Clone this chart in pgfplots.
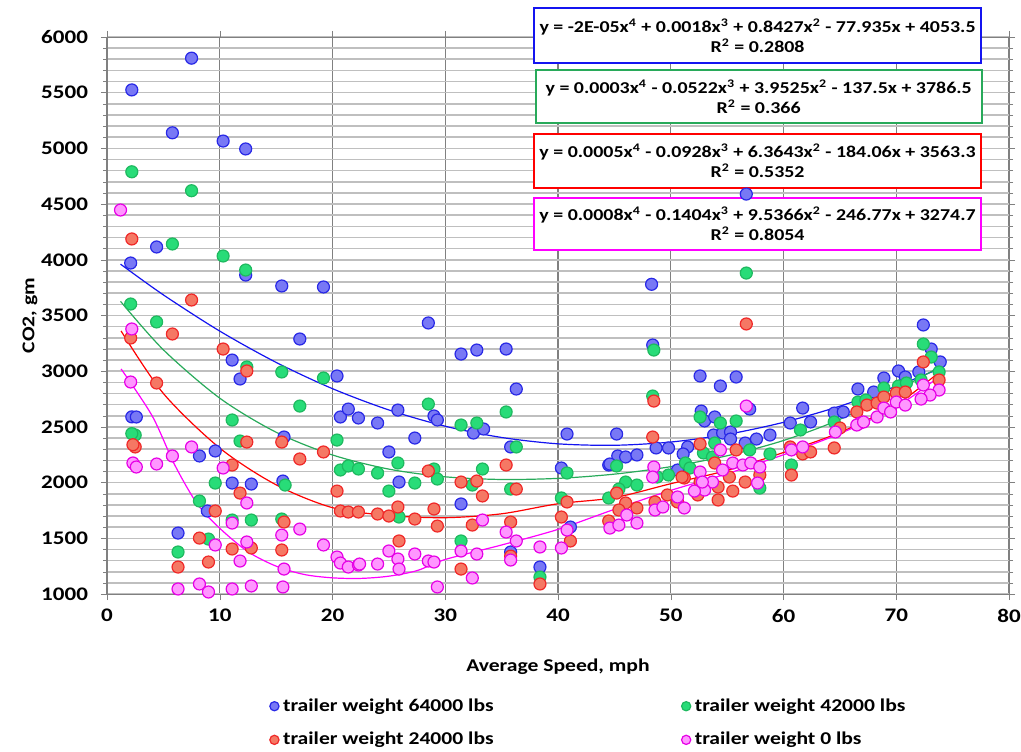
\documentclass[border=0pt]{standalone}
\usepackage{fontspec}
\setmainfont{Carlito}[FakeStretch=1.2]
\usepackage{pgfplots}
\pgfplotsset{compat=1.18}

\definecolor{bfill}{RGB}{120,120,245}
\definecolor{bedge}{RGB}{40,40,230}
\definecolor{gfill}{RGB}{40,220,120}
\definecolor{gedge}{RGB}{30,185,95}
\definecolor{rfill}{RGB}{245,120,100}
\definecolor{redge}{RGB}{240,40,40}
\definecolor{mfill}{RGB}{255,150,255}
\definecolor{medge}{RGB}{230,0,230}
\definecolor{bline}{RGB}{20,20,240}
\definecolor{gline}{RGB}{40,170,90}
\definecolor{rline}{RGB}{255,0,0}
\definecolor{mline}{RGB}{255,0,255}

\newcommand{\lblfont}{\bfseries\fontsize{9}{10}\selectfont}
\newcommand{\tickfont}{\bfseries\fontsize{9.6}{11}\selectfont}
\newcommand{\eqfont}{\bfseries\fontsize{8.3}{10}\selectfont}

\begin{document}
\begin{tikzpicture}
\begin{axis}[
width=451pt,
height=278.5pt,
scale only axis,
clip=false,
xmin=0, xmax=80,
ymin=1000, ymax=6000,
xtick={0,10,...,80},
ytick={1000,1500,...,6000},
minor y tick num=4,
tick align=outside,
major tick length=3pt,
minor tick length=2pt,
tick style={color=gray},
axis line style={color=gray},
xmajorgrids, ymajorgrids, yminorgrids,
major x grid style={color=gray, line width=0.6pt},
major y grid style={color=black!25, line width=0.8pt},
minor y grid style={color=black!25, line width=0.8pt},
/pgf/number format/assume math mode=true,
/pgf/number format/1000 sep={},
ticklabel style={font=\tickfont},
yticklabel style={xshift=-3pt},
xticklabel style={yshift=-1pt},
xlabel={Average Speed, mph},
ylabel={CO2, gm},
every axis x label/.style={at={(rel axis cs:0.5,0)}, yshift=-36.5pt, anchor=center, font=\lblfont},
every axis y label/.style={at={(rel axis cs:0,0.5)}, xshift=-38.5pt, rotate=90, anchor=center, font=\lblfont},
legend columns=2,
legend cell align=left,
legend image post style={mark size=2.3pt},
legend style={at={(rel axis cs:0.535,0)}, anchor=north, yshift=-48pt, draw=none, fill=none,
  font=\lblfont, row sep=5pt, /tikz/every even column/.append style={column sep=92pt}},
]
\coordinate (sw) at (rel axis cs:0,0);
\coordinate (ne) at (rel axis cs:1,1);

% trailer weight 64000 lbs
\addplot[only marks, mark=*, mark size=3pt, mark options={fill=bfill, draw=bedge, line width=0.6pt}] coordinates {
(2.2,5525) (7.5,5810) (5.8,5140) (10.3,5066) (12.3,4995) (4.4,4115) (2.1,3971) (12.3,3863)
(15.5,3765) (19.2,3756) (17.1,3289) (11.1,3100) (11.8,2930) (20.4,2957) (2.2,2590) (2.6,2589)
(20.7,2589) (21.4,2660) (22.3,2580) (15.7,2409) (9.6,2284) (8.2,2239) (11.1,1996) (12.8,1987)
(15.6,2014) (8.9,1745) (6.3,1547) (28.5,3433) (31.4,3154) (32.8,3190) (35.4,3199) (36.3,2840)
(24.0,2535) (25.8,2651) (29.0,2598) (29.3,2562) (32.5,2445) (33.4,2481) (27.3,2400) (40.8,2436)
(35.8,2320) (25.0,2275) (40.3,2131) (25.9,2005) (31.4,1808) (41.1,1601) (35.8,1377) (38.4,1242)
(48.4,3235) (48.3,3780) (45.2,2436) (44.5,2158) (45.3,2239) (46.0,2230) (47.0,2248) (44.6,2167)
(48.7,2311) (49.8,2311) (56.7,4590) (52.6,2957) (54.4,2867) (55.8,2948) (57.0,2660) (52.7,2642)
(53.0,2553) (53.9,2589) (53.8,2427) (54.6,2445) (55.3,2454) (55.3,2391) (56.6,2355) (57.6,2391)
(58.8,2427) (51.5,2320) (51.1,2257) (50.6,2113) (60.6,2535) (61.7,2669) (62.4,2544) (64.5,2624)
(65.3,2634) (66.6,2840) (68.0,2813) (68.9,2939) (70.2,3002) (70.8,2948) (72.0,2993) (72.4,3415)
(73.1,3199) (73.9,3083)
};
\addlegendentry{trailer weight 64000 lbs}

% trailer weight 42000 lbs
\addplot[only marks, mark=*, mark size=3pt, mark options={fill=gfill, draw=gedge, line width=0.6pt}] coordinates {
(2.2,4790) (7.5,4620) (5.8,4142) (10.3,4034) (12.3,3908) (2.1,3603) (4.4,3442) (12.4,3038)
(15.5,2993) (19.2,2939) (17.1,2687) (11.1,2562) (2.5,2427) (2.2,2440) (11.8,2373) (20.4,2382)
(20.7,2113) (21.4,2149) (22.3,2122) (9.6,1996) (15.8,1978) (8.2,1835) (11.1,1664) (12.8,1664)
(15.5,1673) (9.0,1493) (6.3,1377) (28.5,2705) (35.4,2634) (31.4,2517) (32.8,2535) (36.3,2320)
(25.8,2176) (24.0,2086) (29.0,2122) (29.3,2032) (33.3,2122) (40.8,2086) (27.3,1996) (32.4,1978)
(35.8,1942) (25.0,1924) (40.3,1862) (25.9,1691) (31.4,1476) (38.4,1152) (48.5,3190) (48.4,2777)
(45.2,2149) (46.0,2005) (47.0,1978) (45.4,1942) (44.5,1862) (48.8,2050) (49.8,2068) (56.7,3881)
(52.6,2589) (54.4,2535) (55.8,2553) (53.9,2355) (52.9,2266) (57.0,2293) (58.8,2257) (51.3,2176)
(51.7,2131) (53.7,2230) (57.9,1951) (61.5,2472) (60.7,2158) (64.5,2544) (66.6,2723) (67.3,2741)
(68.9,2849) (70.2,2867) (70.9,2894) (72.2,2921) (73.8,2993) (72.4,3244) (73.1,3127)
};
\addlegendentry{trailer weight 42000 lbs}

% trailer weight 24000 lbs
\addplot[only marks, mark=*, mark size=3pt, mark options={fill=rfill, draw=redge, line width=0.6pt}] coordinates {
(2.2,4187) (7.5,3639) (2.1,3298) (5.8,3334) (10.3,3199) (12.4,3002) (4.4,2894) (2.5,2320)
(2.3,2340) (12.4,2364) (15.5,2364) (19.2,2275) (17.1,2212) (11.1,2158) (20.4,1924) (11.8,1906)
(9.6,1745) (20.7,1745) (21.4,1736) (22.3,1736) (15.7,1646) (8.2,1502) (11.1,1404) (12.8,1413)
(15.5,1395) (9.0,1287) (6.3,1242) (35.4,2158) (28.5,2104) (31.4,2005) (32.8,2014) (36.3,1942)
(33.3,1880) (40.8,1826) (25.8,1781) (24.0,1718) (25.0,1700) (27.3,1673) (29.0,1763) (29.3,1610)
(40.3,1691) (35.8,1646) (32.4,1619) (41.1,1476) (25.9,1476) (31.4,1224) (35.8,1340) (38.4,1090)
(48.5,2732) (48.4,2409) (45.2,1906) (46.0,1817) (45.4,1754) (47.0,1772) (44.5,1655) (49.7,1889)
(48.6,1826) (56.7,3424) (52.6,2346) (55.8,2293) (53.9,2176) (51.2,2041) (52.6,2005) (55.2,2050)
(56.6,2005) (57.9,2068) (54.2,1960) (54.2,1844) (55.5,1924) (50.6,1826) (51.0,2050) (52.4,1889)
(61.7,2257) (62.4,2275) (60.7,2068) (60.6,2320) (64.5,2311) (65.0,2490) (66.5,2634) (67.4,2696)
(68.3,2714) (68.9,2768) (70.0,2804) (70.8,2813) (72.4,3083) (73.8,2921)
};
\addlegendentry{trailer weight 24000 lbs}

% trailer weight 0 lbs
\addplot[only marks, mark=*, mark size=3pt, mark options={fill=mfill, draw=medge, line width=0.6pt}] coordinates {
(1.2,4447) (2.2,3379) (2.1,2903) (7.5,2320) (5.8,2239) (2.3,2176) (2.6,2140) (4.4,2167)
(10.3,2131) (12.4,1817) (11.1,1637) (17.1,1583) (9.6,1440) (12.4,1467) (15.5,1529) (19.2,1440)
(11.8,1296) (20.4,1332) (20.7,1278) (21.4,1242) (22.3,1260) (15.7,1224) (6.3,1045) (8.2,1090)
(9.0,1018) (11.1,1045) (12.8,1072) (15.6,1063) (33.3,1664) (35.4,1556) (40.8,1574) (36.3,1476)
(25.0,1386) (22.4,1269) (24.0,1269) (25.8,1314) (25.9,1224) (27.3,1359) (28.5,1296) (29.0,1287)
(29.3,1063) (31.4,1386) (32.8,1359) (32.4,1144) (35.8,1305) (38.4,1422) (40.3,1413) (48.5,2140)
(48.4,2050) (44.6,1592) (45.4,1619) (46.1,1709) (47.0,1637) (48.6,1754) (49.3,1781) (56.7,2687)
(54.4,2293) (55.5,2176) (56.4,2158) (57.1,2176) (57.9,2140) (52.6,2095) (54.6,2113) (53.7,2005)
(53.0,1933) (52.1,1924) (50.6,1871) (57.7,1996) (51.2,1772) (52.8,2005) (60.7,2293) (61.7,2320)
(64.6,2454) (66.8,2535) (66.5,2517) (67.1,2544) (68.3,2589) (68.9,2669) (69.5,2634) (70.0,2723)
(70.8,2696) (72.4,2876) (73.8,2831) (73.0,2786) (72.2,2750)
};
\addlegendentry{trailer weight 0 lbs}

% trend lines
\addplot[forget plot, smooth, bline, line width=0.6pt] coordinates {
(1.2,3961) (5,3685) (10,3360) (15,3079) (20,2843) (25,2652) (30,2506) (35,2405)
(40,2348) (45,2335) (50,2364) (55,2433) (60,2541) (65,2686) (70,2865) (73.9,3026)
};
\addplot[forget plot, smooth, gline, line width=0.6pt] coordinates {
(1.2,3627) (5,3192) (10,2758) (15,2452) (20,2248) (25,2121) (30,2052) (35,2028)
(40,2038) (45,2076) (50,2143) (55,2241) (60,2378) (65,2568) (70,2827) (73.9,3040)
};
\addplot[forget plot, smooth, rline, line width=0.6pt] coordinates {
(1.25,3361) (5,2800) (10,2310) (15,1980) (20,1775) (25,1705) (30,1685) (35,1720)
(40,1810) (45,1865) (50,1990) (55,2110) (60,2270) (65,2450) (70,2700) (73.8,2990)
};
\addplot[forget plot, smooth, mline, line width=0.6pt] coordinates {
(1.25,3020) (4,2600) (6,2160) (8,1810) (10,1590) (12.5,1380) (15,1250) (17.5,1175)
(20,1145) (22.5,1140) (25,1160) (27.5,1210) (30,1310) (35,1440) (40,1580) (45,1760)
(50,1930) (55,2080) (60,2250) (65,2440) (70,2680) (73.8,2950)
};

% equation boxes
\node[draw=bline, line width=1pt, fill=white, align=center, minimum width=223.5pt, minimum height=27.5pt, inner sep=1pt, font=\eqfont]
  at (axis cs:57.7,6013) {y = -2E-05x\textsuperscript{4} + 0.0018x\textsuperscript{3} + 0.8427x\textsuperscript{2} - 77.935x + 4053.5\\R\textsuperscript{2} = 0.2808};
\node[draw=gline, line width=1pt, fill=white, align=center, minimum width=223pt, minimum height=26.5pt, inner sep=1pt, font=\eqfont]
  at (axis cs:57.8,5466) {y = 0.0003x\textsuperscript{4} - 0.0522x\textsuperscript{3} + 3.9525x\textsuperscript{2} - 137.5x + 3786.5\\R\textsuperscript{2} = 0.366};
\node[draw=rline, line width=1pt, fill=white, align=center, minimum width=223.5pt, minimum height=27pt, inner sep=1pt, font=\eqfont]
  at (axis cs:57.7,4887) {y = 0.0005x\textsuperscript{4} - 0.0928x\textsuperscript{3} + 6.3643x\textsuperscript{2} - 184.06x + 3563.3\\R\textsuperscript{2} = 0.5352};
\node[draw=mline, line width=1pt, fill=white, align=center, minimum width=223.5pt, minimum height=26pt, inner sep=1pt, font=\eqfont]
  at (axis cs:57.7,4321) {y = 0.0008x\textsuperscript{4} - 0.1404x\textsuperscript{3} + 9.5366x\textsuperscript{2} - 246.77x + 3274.7\\R\textsuperscript{2} = 0.8054};
\end{axis}
\pgfresetboundingbox
\path[use as bounding box] ([shift={(-53.5pt,-78.5pt)}]sw) rectangle ([shift={(6pt,18.5pt)}]ne);
\end{tikzpicture}
\end{document}
